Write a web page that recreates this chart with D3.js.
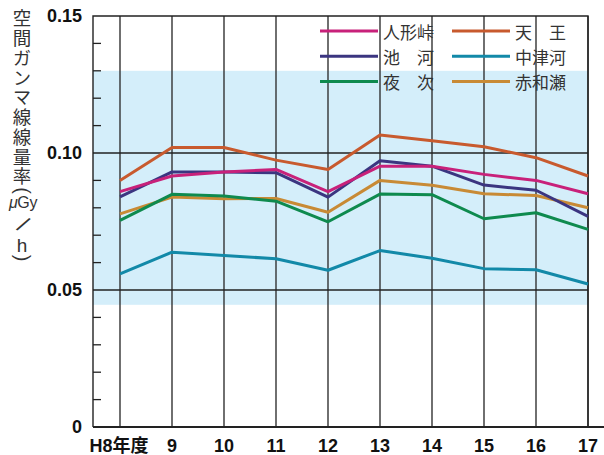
<!DOCTYPE html>
<html>
<head>
<meta charset="utf-8">
<title>空間ガンマ線線量率</title>
<script src="https://cdn.jsdelivr.net/npm/d3@7"></script>
<style>
  body { margin: 0; background: #fff; }
  svg { display: block; }
</style>
</head>
<body>
<svg id="chart"></svg>
<script>
const WIDTH = 604;
const HEIGHT = 455;

// data (μGy/h)
const years = ["H8年度", "9", "10", "11", "12", "13", "14", "15", "16", "17"];
const ningyotoge = [0.0859, 0.0916, 0.0931, 0.0940, 0.0859, 0.0952, 0.0952, 0.0922, 0.0900, 0.0851];
const ikego      = [0.0840, 0.0931, 0.0931, 0.0928, 0.0839, 0.0972, 0.0952, 0.0883, 0.0864, 0.0769];
const yotsugi    = [0.0754, 0.0849, 0.0843, 0.0824, 0.0749, 0.0850, 0.0848, 0.0760, 0.0782, 0.0721];
const tenno      = [0.0900, 0.1020, 0.1020, 0.0974, 0.0940, 0.1066, 0.1045, 0.1023, 0.0983, 0.0916];
const nakatsugo  = [0.0559, 0.0638, 0.0626, 0.0614, 0.0572, 0.0644, 0.0616, 0.0578, 0.0574, 0.0522];
const akawase    = [0.0778, 0.0839, 0.0833, 0.0834, 0.0784, 0.0900, 0.0882, 0.0851, 0.0845, 0.0800];
const yTicks = [0, 0.05, 0.10, 0.15];
const yTickLabels = ["0", "0.05", "0.10", "0.15"];
const band = [0.0446, 0.13];

const series = [
  { name: "人形峠", values: ningyotoge, color: "#c8217a", col: 0, row: 0 },
  { name: "池　河", values: ikego, color: "#3b3580", col: 0, row: 1 },
  { name: "夜　次", values: yotsugi, color: "#0e8a4e", col: 0, row: 2 },
  { name: "天　王", values: tenno, color: "#c85a2e", col: 1, row: 0 },
  { name: "中津河", values: nakatsugo, color: "#1289a8", col: 1, row: 1 },
  { name: "赤和瀬", values: akawase, color: "#c88a35", col: 1, row: 2 }
];
// draw order so the overlaps look like the picture
const drawOrder = [5, 2, 4, 1, 0, 3];

const plotL = 93, plotR = 588, plotT = 16, plotB = 427;

const svg = d3.select("#chart")
  .attr("width", WIDTH)
  .attr("height", HEIGHT);

const x = d3.scalePoint()
  .domain(years)
  .range([120, plotR]);

const y = d3.scaleLinear()
  .domain([0, 0.15])
  .range([plotB, plotT]);

// blue band
svg.append("rect")
  .attr("x", plotL)
  .attr("y", y(band[1]))
  .attr("width", plotR - plotL)
  .attr("height", y(band[0]) - y(band[1]))
  .attr("fill", "#d4eefa");

// vertical grid lines
svg.append("g")
  .selectAll("line")
  .data(years)
  .join("line")
  .attr("x1", d => x(d))
  .attr("x2", d => x(d))
  .attr("y1", plotT)
  .attr("y2", plotB)
  .attr("stroke", "#333")
  .attr("stroke-width", 1.4);

// horizontal grid lines
svg.append("g")
  .selectAll("line")
  .data([0.05, 0.10])
  .join("line")
  .attr("x1", plotL)
  .attr("x2", plotR)
  .attr("y1", d => y(d))
  .attr("y2", d => y(d))
  .attr("stroke", "#222")
  .attr("stroke-width", 1.4);

// minor ticks (inward)
const minor = d3.range(1, 15).map(i => i / 100).filter(v => Math.abs(v - 0.05) > 1e-6 && Math.abs(v - 0.10) > 1e-6);
svg.append("g")
  .selectAll("line")
  .data(minor)
  .join("line")
  .attr("x1", plotL)
  .attr("x2", plotL + 8)
  .attr("y1", d => y(d))
  .attr("y2", d => y(d))
  .attr("stroke", "#222")
  .attr("stroke-width", 1.3);

// frame
svg.append("path")
  .attr("d", `M${plotL},${plotB}V${plotT}H${plotR}V${plotB}`)
  .attr("fill", "none")
  .attr("stroke", "#222")
  .attr("stroke-width", 1.4);
svg.append("line")
  .attr("x1", plotL).attr("x2", WIDTH)
  .attr("y1", plotB).attr("y2", plotB)
  .attr("stroke", "#222")
  .attr("stroke-width", 2.2);

// series lines
const line = d3.line()
  .x((d, i) => x(years[i]))
  .y(d => y(d));

svg.append("g")
  .selectAll("path")
  .data(drawOrder.map(i => series[i]))
  .join("path")
  .attr("d", d => line(d.values))
  .attr("fill", "none")
  .attr("stroke", d => d.color)
  .attr("stroke-width", 3)
  .attr("stroke-linejoin", "round");

// y tick labels
svg.append("g")
  .selectAll("text")
  .data(yTicks)
  .join("text")
  .attr("x", 82)
  .attr("y", d => y(d) + 6)
  .attr("text-anchor", "end")
  .attr("font-family", "Liberation Sans, Arial, sans-serif")
  .attr("font-weight", "bold")
  .attr("font-size", 18)
  .attr("fill", "#111")
  .text((d, i) => yTickLabels[i]);

// x tick labels
svg.append("g")
  .selectAll("text")
  .data(years)
  .join("text")
  .attr("x", d => d === "H8年度" ? x(d) - 1 : x(d))
  .attr("y", 452)
  .attr("text-anchor", "middle")
  .attr("font-family", "Liberation Sans, 'Noto Sans CJK JP', sans-serif")
  .attr("font-weight", "bold")
  .attr("font-size", 18)
  .attr("fill", "#111")
  .text(d => d);

// legend
const legend = svg.append("g")
  .selectAll("g")
  .data(series)
  .join("g")
  .attr("transform", d => `translate(${320 + d.col * 132},${31 + d.row * 25.3})`);
legend.append("line")
  .attr("x1", 0).attr("x2", 58)
  .attr("stroke", d => d.color)
  .attr("stroke-width", 3);
legend.append("text")
  .attr("x", 63)
  .attr("y", 7.5)
  .attr("font-family", "'Noto Sans CJK JP', sans-serif")
  .attr("font-size", 17)
  .attr("fill", "#333")
  .text(d => d.name);

// vertical axis title
const title = svg.append("g").attr("fill", "#333");
title.append("text")
  .attr("x", 22)
  .attr("y", 9)
  .attr("font-family", "'Noto Sans CJK JP', sans-serif")
  .attr("font-size", 18.5)
  .attr("letter-spacing", 1.25)
  .style("writing-mode", "vertical-rl")
  .text("空間ガンマ線線量率");
title.append("text")
  .attr("transform", "translate(23,190.5) rotate(90)")
  .attr("text-anchor", "middle")
  .attr("dominant-baseline", "central")
  .attr("font-family", "Liberation Sans, Arial, sans-serif")
  .attr("font-size", 20)
  .text("(");
title.append("text")
  .attr("x", 23)
  .attr("y", 207.5)
  .attr("text-anchor", "middle")
  .attr("font-family", "Liberation Sans, Arial, sans-serif")
  .attr("font-size", 16)
  .attr("letter-spacing", -0.4)
  .html('<tspan font-style="italic">μ</tspan>Gy');
title.append("text")
  .attr("transform", "translate(23,224.5) rotate(34)")
  .attr("text-anchor", "middle")
  .attr("dominant-baseline", "central")
  .attr("font-family", "Liberation Sans, Arial, sans-serif")
  .attr("font-size", 23)
  .text("/");
title.append("text")
  .attr("x", 22)
  .attr("y", 251.5)
  .attr("text-anchor", "middle")
  .attr("font-family", "Liberation Sans, Arial, sans-serif")
  .attr("font-size", 19)
  .text("h");
title.append("text")
  .attr("transform", "translate(23,258) rotate(90)")
  .attr("text-anchor", "middle")
  .attr("dominant-baseline", "central")
  .attr("font-family", "Liberation Sans, Arial, sans-serif")
  .attr("font-size", 20)
  .text(")");
</script>
</body>
</html>
